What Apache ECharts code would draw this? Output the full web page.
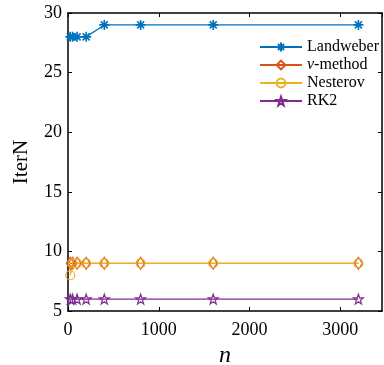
<!DOCTYPE html>
<html>
<head>
<meta charset="utf-8">
<script src="https://cdn.jsdelivr.net/npm/echarts@6/dist/echarts.min.js"></script>
</head>
<body style="margin:0;background:#fff;">
<div id="main" style="width: 384px;height:365px;"></div>
<script type="text/javascript">

    // problem sizes n
    var nValues = [25, 50, 100, 200, 400, 800, 1600, 3200];
    // iteration counts
    var landweber = [28, 28, 28, 28, 29, 29, 29, 29];
    var nuMethod = [9, 9, 9, 9, 9, 9, 9, 9];
    var nesterov = [8, 9, 9, 9, 9, 9, 9, 9];
    var rk2 = [6, 6, 6, 6, 6, 6, 6, 6];
    var xTicks = [0, 1000, 2000, 3000];
    var yTicks = [5, 10, 15, 20, 25, 30];

    var seriesNames = ['Landweber', 'ν-method', 'Nesterov', 'RK2'];
    var colors = ['#0072BD', '#D95319', '#EDB120', '#7E2F8E'];

    var asterisk = 'path://M0,-10L0,10M-10,0L10,0M-7,-7L7,7M-7,7L7,-7';
    var star = 'path://M0,-10L2.35,-3.24L9.51,-3.09L3.8,1.24L5.88,8.09L0,4L-5.88,8.09L-3.8,1.24L-9.51,-3.09L-2.35,-3.24Z';

    function pairs(ys) {
        var out = [];
        for (var i = 0; i < nValues.length; i++) {
            out.push([nValues[i], ys[i]]);
        }
        return out;
    }

    function makeSeries(idx, ys, symbol, size, bw) {
        return {
            name: seriesNames[idx],
            type: 'line',
            data: pairs(ys),
            symbol: symbol,
            symbolSize: size,
            showAllSymbol: true,
            lineStyle: { color: colors[idx], width: 1.3 },
            itemStyle: { color: 'rgba(255,255,255,0)', borderColor: colors[idx], borderWidth: bw },
            emphasis: { disabled: true },
            animation: false
        };
    }

    var font = 'Liberation Serif';
    var axisBase = {
        axisLine: { show: true, onZero: false, lineStyle: { color: '#000', width: 1.5 } },
        axisTick: { show: true, inside: true, length: 4, lineStyle: { color: '#000', width: 1 } },
        splitLine: { show: false }
    };

    var myChart = echarts.init(document.getElementById('main'));

    var option = {
        backgroundColor: '#fff',
        color: colors,
        grid: { left: 68, right: 2, top: 13, bottom: 54, containLabel: false, outerBoundsMode: 'none' },
        legend: {
            orient: 'vertical',
            left: 254,
            top: 33,
            itemWidth: 42,
            itemHeight: 11,
            itemGap: 0,
            data: seriesNames,
            formatter: function (name) {
                if (name === 'ν-method') return '{i|ν}-method';
                return name;
            },
            textStyle: {
                fontFamily: font, fontSize: 16, color: '#000', lineHeight: 18,
                rich: { i: { fontFamily: font, fontSize: 16, fontStyle: 'italic', color: '#000' } }
            }
        },
        xAxis: [
            Object.assign({
                type: 'value', min: 0, max: 3460, interval: 1000, position: 'bottom',
                name: 'n', nameLocation: 'middle', nameGap: 31,
                nameTextStyle: { fontFamily: font, fontSize: 24, fontStyle: 'italic', color: '#000' },
                axisLabel: {
                    fontFamily: font, fontSize: 18, color: '#000', margin: 10, showMaxLabel: false,
                    formatter: function (v) { return xTicks.indexOf(v) >= 0 ? String(v) : ''; }
                }
            }, axisBase),
            Object.assign({
                type: 'value', min: 0, max: 3460, interval: 1000, position: 'top',
                axisLabel: { show: false }
            }, axisBase)
        ],
        yAxis: [
            Object.assign({
                type: 'value', min: 5, max: 30, interval: 5, position: 'left',
                name: 'IterN', nameLocation: 'middle', nameGap: 36,
                nameTextStyle: { fontFamily: font, fontSize: 21, color: '#000' },
                axisLabel: {
                    fontFamily: font, fontSize: 18, color: '#000', margin: 6,
                    formatter: function (v) { return yTicks.indexOf(v) >= 0 ? String(v) : ''; }
                }
            }, axisBase),
            Object.assign({
                type: 'value', min: 5, max: 30, interval: 5, position: 'right',
                axisLabel: { show: false }
            }, axisBase)
        ],
        series: [
            makeSeries(0, landweber, asterisk, 10, 1.6),
            makeSeries(1, nuMethod, 'diamond', [8, 12], 1.2),
            makeSeries(2, nesterov, 'circle', 9, 1.2),
            makeSeries(3, rk2, star, 10, 1.2)
        ]
    };

    myChart.setOption(option);
</script>
</body>
</html>
